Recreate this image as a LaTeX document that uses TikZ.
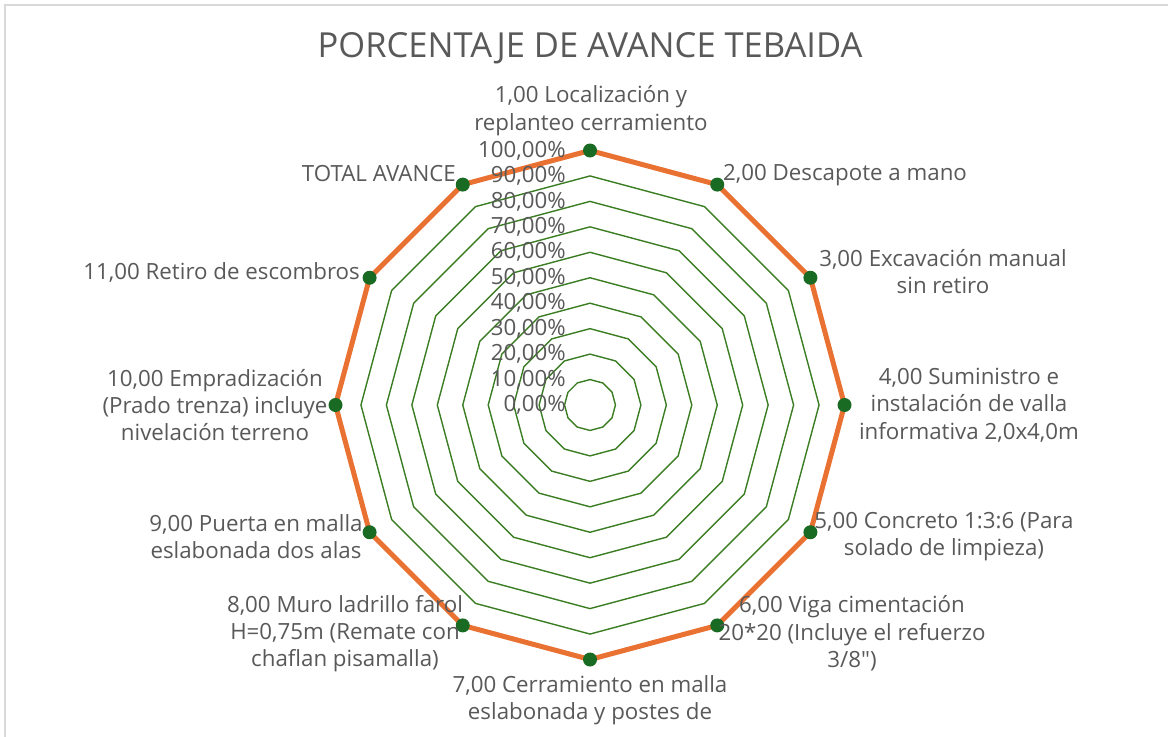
\documentclass[tikz,border=0pt]{standalone}
\usepackage{fontspec}
\setmainfont{Open Sans}
\newfontfamily\rawq{Open Sans}[Ligatures=TeXOff]
\usetikzlibrary{calc}
\definecolor{txt}{HTML}{595959}
\definecolor{gridg}{HTML}{3B7D23}
\definecolor{orng}{HTML}{E97132}
\definecolor{dotg}{HTML}{196B24}
\definecolor{frame}{HTML}{D9D9D9}
\begin{document}
\begin{tikzpicture}[x=1pt,y=-1pt,
  lbl/.style={text=txt,inner sep=0pt,align=center,font=\fontsize{22.3}{27.3}\selectfont},
  pct/.style={text=txt,inner sep=0pt,anchor=east,font=\fontsize{22.3}{24}\selectfont},
  ring/.style={draw=gridg,line width=1.4pt,line join=miter},
  serie/.style={draw=orng,line width=5pt,line join=miter},
  dot/.style={circle,fill=dotg,inner sep=0pt,minimum size=14pt}]
\useasboundingbox (0,0) rectangle (1169,736);
\fill[white] (0,0) rectangle (1169,736);
% frame
\draw[frame,line width=2pt] (5,740) -- (5,4.5) -- (1168,4.5);
% title
\node[text=txt,inner sep=0pt,font=\fontsize{34.5}{40}\selectfont] (title) at (590,48) {PORCENTAJE DE AVANCE TEBAIDA};
% grid rings
\foreach \k in {1,...,9}{
  \draw[ring] ($(590,405)+(90:{25.45*\k})$)
    \foreach \a in {60,30,...,-240}{ -- ($(590,405)+(\a:{25.45*\k})$)} -- cycle;
}
% data points
\foreach \i in {0,...,11}{
  \coordinate (c\i) at ($(590,405)+({-90+30*\i}:254.5)$);
}
\draw[serie] (c0) -- (c1) -- (c2) -- (c3) -- (c4) -- (c5) -- (c6) -- (c7) -- (c8) -- (c9) -- (c10) -- (c11) -- cycle;
\foreach \i in {0,...,11}{ \node[dot] (p\i) at (c\i) {}; }
% percentage labels
\foreach \k/\t in {0/0,1/10,2/20,3/30,4/40,5/50,6/60,7/70,8/80,9/90,10/100}{
  \node[pct] (v\k) at (566,{405-25.45*\k}) {\t,00\%};
}
% category labels
\node[lbl] (l1) at (591,110.5) {1,00 Localización y\\replanteo cerramiento};
\node[lbl,anchor=west] (l2) at (723,175) {2,00 Descapote a mano};
\node[lbl] (l3) at (943,271.5) {3,00 Excavación manual\\sin retiro};
\node[lbl] (l4) at (969,405) {4,00 Suministro e\\instalación de valla\\informativa 2,0x4,0m};
\node[lbl] (l5) at (944,536.5) {5,00 Concreto 1:3:6 (Para\\solado de limpieza)};
\node[lbl] (l6) at (852,633.5) {6,00 Viga cimentación\\20*20 (Incluye el refuerzo\\3/8{\rawq"})};
\node[lbl] (l7) at (590,700.5) {7,00 Cerramiento en malla\\eslabonada y postes de};
\node[lbl] (l8) at (345,633.5) {8,00 Muro ladrillo farol\\H=0,75m (Remate con\\chaflan pisamalla)};
\node[lbl] (l9) at (256,536.5) {9,00 Puerta en malla\\eslabonada dos alas};
\node[lbl] (l10) at (215,405) {10,00 Empradización\\(Prado trenza) incluye\\nivelación terreno};
\node[lbl,anchor=east] (l11) at (360,272) {11,00 Retiro de escombros};
\node[lbl,anchor=east] (l12) at (456,174) {TOTAL AVANCE};
\end{tikzpicture}
\end{document}
